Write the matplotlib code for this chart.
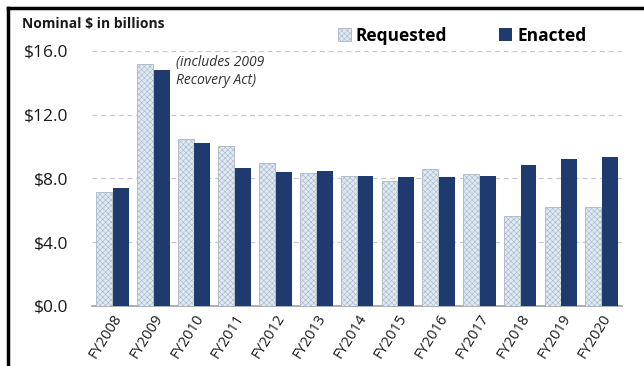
import matplotlib
matplotlib.use("Agg")
import matplotlib.pyplot as plt
from matplotlib.patches import Patch
from matplotlib.lines import Line2D
import numpy as np

# data (nominal $ billions)
years = ["FY2008", "FY2009", "FY2010", "FY2011", "FY2012", "FY2013", "FY2014",
         "FY2015", "FY2016", "FY2017", "FY2018", "FY2019", "FY2020"]
requested = [7.17, 15.17, 10.45, 10.03, 8.95, 8.34, 8.15, 7.85, 8.59, 8.25, 5.66, 6.19, 6.19]
enacted = [7.42, 14.80, 10.24, 8.63, 8.42, 8.45, 8.15, 8.10, 8.10, 8.15, 8.84, 9.20, 9.32]
yticks = [0, 4, 8, 12, 16]
ytick_labels = ["$0.0", "$4.0", "$8.0", "$12.0", "$16.0"]

req_face = "#dde9f5"
req_edge = "#aab6c4"
enc_color = "#1f3a6e"

plt.rcParams['font.family'] = ['Open Sans', 'DejaVu Sans']
plt.rcParams['hatch.linewidth'] = 0.4

fig = plt.figure(figsize=(6.44, 3.66), dpi=100)
ax = fig.add_axes([0.143, 0.164, 0.823, 0.697])

x = np.arange(len(years))
w = 0.39
ax.bar(x - w / 2 - 0.01, requested, w, color=req_face, edgecolor=req_edge,
       hatch="xxxxxx", linewidth=0.6, zorder=3)
ax.bar(x + w / 2 + 0.01, enacted, w, color=enc_color, zorder=3)

ax.set_xlim(-0.5, len(years) - 0.5)
ax.set_ylim(0, 16)
ax.set_yticks(yticks)
ax.set_yticklabels(ytick_labels, fontsize=12.5)
ax.set_xticks(x)
ax.set_xticklabels(years, rotation=58, ha="right", rotation_mode="anchor", fontsize=10.5)
ax.tick_params(axis="y", length=0, pad=17, colors="#1a1a1a")
ax.tick_params(axis="x", length=0, pad=4, colors="#1a1a1a")
ax.yaxis.grid(True, linestyle=(0, (4, 3)), color="#c8c8c8", linewidth=0.9, zorder=0)
for s in ["top", "right", "left"]:
    ax.spines[s].set_visible(False)
ax.spines["bottom"].set_color("#a0a0a0")
ax.spines["bottom"].set_linewidth(1.2)

ax.text(1.55, 14.7, "(includes 2009\nRecovery Act)", fontsize=10, style="italic",
        color="#333333", va="center", linespacing=1.3)

fig.text(0.034, 0.935, "Nominal $ in billions", fontsize=10, fontweight="bold",
         color="#1a1a1a", va="center")

handles = [Patch(facecolor=req_face, edgecolor=req_edge, hatch="xxxxxx", linewidth=0.6),
           Patch(facecolor=enc_color)]
fig.legend(handles, ["Requested", "Enacted"], loc="center left", ncol=2,
           bbox_to_anchor=(0.5, 0.903), frameon=False, handlelength=0.75,
           handleheight=0.75, handletextpad=0.3, columnspacing=3.0,
           prop={"weight": "bold", "size": 12.5})

# outer frame (top and left)
fig.add_artist(Line2D([0.012, 0.012], [0.0, 0.978], color="black", linewidth=2.5))
fig.add_artist(Line2D([0.012, 1.0], [0.978, 0.978], color="black", linewidth=2.5))

fig.savefig("out.png", dpi=100)
